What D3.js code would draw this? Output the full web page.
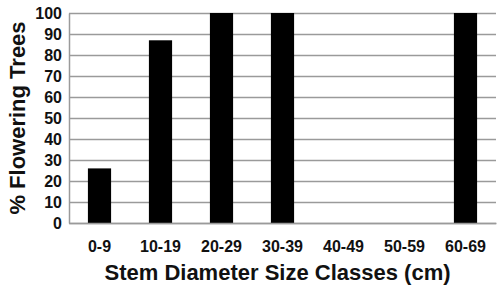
<!DOCTYPE html>
<html>
<head>
<meta charset="utf-8">
<script src="https://cdn.jsdelivr.net/npm/d3@7"></script>
<style>
  body { margin: 0; background: #fff; }
  svg { display: block; font-family: "Liberation Sans", Arial, sans-serif; }
</style>
</head>
<body>
<svg id="chart" width="497" height="288"></svg>
<script>
const classes = ["0-9", "10-19", "20-29", "30-39", "40-49", "50-59", "60-69"];
const flowering = [26, 87, 100, 100, 0, 0, 100];
const yTicks = [0, 10, 20, 30, 40, 50, 60, 70, 80, 90, 100];

const data = classes.map((c, i) => ({ cls: c, pct: flowering[i] }));

const margin = { top: 13, right: 1, bottom: 65, left: 69 };
const W = 497, H = 288;
const w = W - margin.left - margin.right,
      h = H - margin.top - margin.bottom;

const svg = d3.select("#chart")
    .append("g")
    .attr("transform", "translate(" + margin.left + "," + margin.top + ")");

const scaleX = d3.scaleBand()
    .domain(classes)
    .range([0, w])
    .paddingInner(0.62)
    .paddingOuter(0.31);

const scaleY = d3.scaleLinear()
    .domain([0, 100])
    .range([h, 0]);

// gridlines
const grid = d3.axisLeft(scaleY)
    .tickValues(yTicks)
    .tickSize(-w)
    .tickFormat("");
svg.append("g")
    .call(grid)
    .call(g => g.select(".domain").remove())
    .call(g => g.selectAll("line").attr("stroke", "#9a9a9a").attr("stroke-width", 1.5));

// bars
svg.append("g")
    .selectAll("rect")
    .data(data).enter()
    .append("rect")
    .attr("x", d => scaleX(d.cls))
    .attr("y", d => scaleY(d.pct))
    .attr("width", scaleX.bandwidth())
    .attr("height", d => h - scaleY(d.pct))
    .attr("fill", "#000");

const styleText = g => g.selectAll("text")
    .attr("font-size", "16px")
    .attr("font-weight", "bold")
    .attr("fill", "#111")
    .attr("font-family", "Liberation Sans, Arial, sans-serif");

// y axis
const axisY = d3.axisLeft(scaleY)
    .tickValues(yTicks)
    .tickSize(0)
    .tickPadding(7);
svg.append("g")
    .call(axisY)
    .call(g => g.select(".domain").attr("stroke", "#9a9a9a").attr("stroke-width", 1.5))
    .call(styleText);

// x axis
const axisX = d3.axisBottom(scaleX)
    .tickSize(0)
    .tickPadding(18);
svg.append("g")
    .attr("transform", "translate(0," + h + ")")
    .call(axisX)
    .call(g => g.select(".domain").attr("stroke", "#9a9a9a").attr("stroke-width", 1.5))
    .call(styleText);

// axis titles
svg.append("text")
    .attr("text-anchor", "middle")
    .attr("transform", "translate(-52," + (h / 2) + ") rotate(-90)")
    .attr("dy", "0.35em")
    .attr("font-size", "22px")
    .attr("font-weight", "bold")
    .attr("fill", "#111")
    .text("% Flowering Trees");

svg.append("text")
    .attr("text-anchor", "middle")
    .attr("x", w / 2 - 5)
    .attr("y", h + 57)
    .attr("font-size", "22px")
    .attr("font-weight", "bold")
    .attr("fill", "#111")
    .text("Stem Diameter Size Classes (cm)");
</script>
</body>
</html>
